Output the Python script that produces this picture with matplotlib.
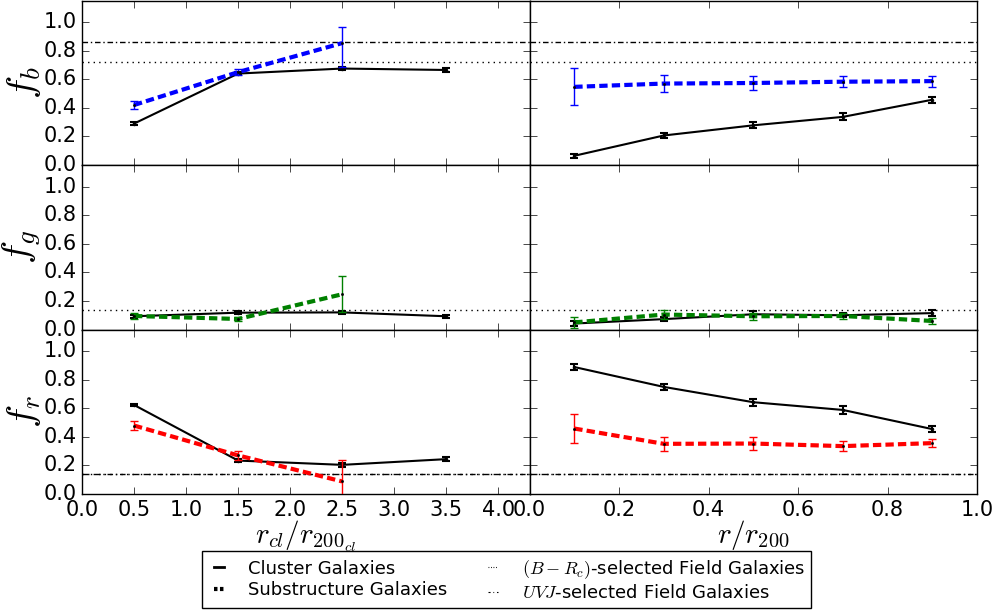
import numpy as np
import matplotlib
matplotlib.use('Agg')
import matplotlib.pyplot as plt
from matplotlib.lines import Line2D

plt.style.use('classic')
plt.rcParams['mathtext.fontset'] = 'cm'
plt.rcParams['font.family'] = 'DejaVu Sans'
plt.rcParams['lines.scale_dashes'] = False

# radial bins
x_cl = [0.5, 1.5, 2.5, 3.5]
x_sub_cl = [0.5, 1.5, 2.5]
x_r = [0.1, 0.3, 0.5, 0.7, 0.9]

# blue fraction
fb_cl_left = [0.29, 0.64, 0.675, 0.665]
fb_cl_left_err = [0.01, 0.012, 0.01, 0.015]
fb_sub_left = [0.42, 0.65, 0.853]
fb_sub_left_lo = [0.03, 0.02, 0.17]
fb_sub_left_hi = [0.03, 0.02, 0.115]
fb_cl_right = [0.065, 0.207, 0.278, 0.337, 0.457]
fb_cl_right_err = [0.015, 0.02, 0.02, 0.025, 0.02]
fb_sub_right = [0.547, 0.57, 0.574, 0.583, 0.587]
fb_sub_right_err = [0.13, 0.06, 0.047, 0.04, 0.038]

# green fraction
fg_cl_left = [0.093, 0.118, 0.12, 0.093]
fg_cl_left_err = [0.01, 0.01, 0.01, 0.01]
fg_sub_left = [0.095, 0.074, 0.247]
fg_sub_left_err = [0.02, 0.015, 0.125]
fg_cl_right = [0.042, 0.073, 0.107, 0.1, 0.115]
fg_cl_right_err = [0.015, 0.015, 0.02, 0.015, 0.02]
fg_sub_right = [0.05, 0.105, 0.093, 0.095, 0.06]
fg_sub_right_err = [0.04, 0.03, 0.025, 0.02, 0.02]

# red fraction
fr_cl_left = [0.623, 0.234, 0.204, 0.244]
fr_cl_left_err = [0.01, 0.012, 0.012, 0.012]
fr_sub_left = [0.479, 0.27, 0.088]
fr_sub_left_err = [0.03, 0.03, 0.15]
fr_cl_right = [0.888, 0.749, 0.642, 0.588, 0.454]
fr_cl_right_err = [0.02, 0.02, 0.025, 0.025, 0.02]
fr_sub_right = [0.458, 0.351, 0.353, 0.335, 0.356]
fr_sub_right_err = [0.1, 0.05, 0.045, 0.035, 0.03]

# field values
field_br = [0.72, 0.137, 0.14]
field_uvj = [0.86, None, 0.14]

ylabels = [r'$f_b$', r'$f_g$', r'$f_r$']
colors = ['b', 'g', 'r']

rows = [
    (fb_cl_left, fb_cl_left_err, fb_sub_left, [fb_sub_left_lo, fb_sub_left_hi],
     fb_cl_right, fb_cl_right_err, fb_sub_right, fb_sub_right_err),
    (fg_cl_left, fg_cl_left_err, fg_sub_left, fg_sub_left_err,
     fg_cl_right, fg_cl_right_err, fg_sub_right, fg_sub_right_err),
    (fr_cl_left, fr_cl_left_err, fr_sub_left, fr_sub_left_err,
     fr_cl_right, fr_cl_right_err, fr_sub_right, fr_sub_right_err),
]

fig, axes = plt.subplots(3, 2, figsize=(9.95, 6.16), dpi=100, facecolor='white')
fig.subplots_adjust(left=0.0824, right=0.982, top=0.999, bottom=0.198, hspace=0, wspace=0)

for i, row in enumerate(rows):
    cl_l, cl_l_e, sub_l, sub_l_e, cl_r, cl_r_e, sub_r, sub_r_e = row
    c = colors[i]
    for j, ax in enumerate(axes[i]):
        if j == 0:
            xc, yc, ec, xs, ys, es = x_cl, cl_l, cl_l_e, x_sub_cl, sub_l, sub_l_e
        else:
            xc, yc, ec, xs, ys, es = x_r, cl_r, cl_r_e, x_r, sub_r, sub_r_e
        ax.errorbar(xc, yc, yerr=ec, color='k', ls='-', lw=1.5, marker='.', ms=4,
                    capsize=3, elinewidth=1.5, capthick=1.5, zorder=3)
        ax.errorbar(xs, ys, yerr=es, color=c, ls='-', lw=0, marker='.', ms=3, mfc='k', mec='k',
                    capsize=3, elinewidth=1, capthick=1, zorder=4)
        ax.plot(xs, ys, color=c, ls='--', dashes=(6, 3), lw=3, zorder=4)
        ax.axhline(field_br[i], color='k', ls=':', lw=1)
        if field_uvj[i] is not None:
            ax.axhline(field_uvj[i], color='k', ls='-.', dashes=(4, 2, 1, 2), lw=1)
        ax.set_ylim(0, 1.15)
        ax.set_yticks([0.0, 0.2, 0.4, 0.6, 0.8, 1.0])
        ax.tick_params(labelsize=15, direction='in', length=5)
        if j == 0:
            ax.set_xlim(0, 4.3)
            ax.set_xticks(np.arange(0, 4.01, 0.5))
            ax.set_ylabel(ylabels[i], fontsize=28, labelpad=0)
        else:
            ax.set_xlim(0, 1.0)
            ax.set_xticks(np.arange(0, 1.01, 0.2))
            ax.set_yticklabels([])
        if i < 2:
            ax.set_xticklabels([])

axes[2, 0].set_xlabel(r'$r_{cl}/r_{200_{cl}}$', fontsize=21, labelpad=-1)
axes[2, 1].set_xlabel(r'$r/r_{200}$', fontsize=21, labelpad=-1)

handles = [
    Line2D([], [], color='k', ls='-', lw=2),
    Line2D([], [], color='k', ls='--', dashes=(2.5, 1.8), lw=3),
    Line2D([], [], color='k', ls=':', dashes=(0.6, 1.2), lw=0.8),
    Line2D([], [], color='k', ls='-.', dashes=(1.5, 2, 0.6, 2), lw=0.8),
]
labels = ['Cluster Galaxies', 'Substructure Galaxies',
          r'$(B-R_c)$-selected Field Galaxies', r'$UVJ$-selected Field Galaxies']
fig.legend(handles, labels, loc='center', bbox_to_anchor=(0.5095, 0.0585), ncol=2,
           fontsize=13, handlelength=1.15, handletextpad=1.0, frameon=True, fancybox=False,
           columnspacing=2.0, borderpad=0.35, labelspacing=0.2, borderaxespad=0)

fig.savefig('out.png', dpi=100, facecolor='white')
